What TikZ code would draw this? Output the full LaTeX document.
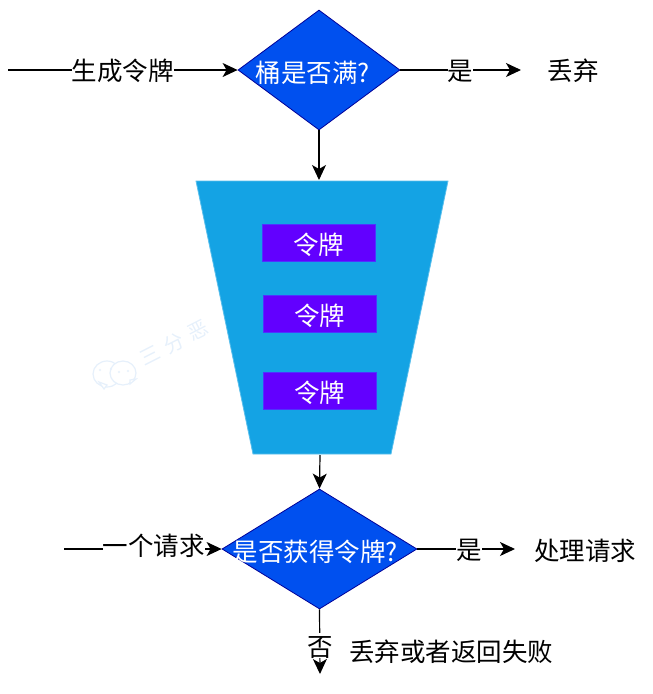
\documentclass[tikz,border=0pt]{standalone}
\usepackage{fontspec}
\setmainfont{Noto Sans CJK SC}
\usetikzlibrary{shapes.geometric,arrows.meta}
\definecolor{cobalt}{HTML}{0050EF}
\definecolor{sky}{HTML}{14A3E4}
\definecolor{violetblue}{HTML}{6200FF}
\definecolor{wmblue}{HTML}{E6F0FB}
\begin{document}
\begin{tikzpicture}[x=1pt,y=-1pt, every node/.style={font=\fontsize{25.5}{28}\selectfont}]
        \tikzset{
            check/.style={diamond,draw=blue!60!black,line width=0.8pt,fill=cobalt,inner sep=0pt,text=white},
            bucket/.style={fill=sky,draw=sky!70!white,line width=0.8pt},
            token/.style={fill=violetblue,draw=violetblue!80!cyan,line width=0.6pt,inner sep=0pt,minimum width=113pt,minimum height=37pt,text=white,text height=23pt,text depth=0pt},
            tag/.style={fill=white,inner sep=0pt,text height=23pt,text depth=2pt},
            word/.style={inner sep=1pt},
            flow/.style={line width=1.2pt,-{Stealth[length=15pt,width=14pt,inset=4pt]}},
            wm/.style={draw=wmblue,line width=1.2pt,fill=white}
        }
        \useasboundingbox (0,0) rectangle (653,694);
        % watermark
        \filldraw[wm] (107,374) ellipse (14 and 13);
        \filldraw[wm] (99,382) -- (104,389) -- (107,385) -- cycle;
        \filldraw[wm] (123,373) ellipse (13 and 12);
        \filldraw[wm] (130,380) -- (136,379) -- (130,384) -- cycle;
        \fill[wmblue] (100,370) circle (1.2) (111,369) circle (1.2) (119,372) circle (1.2) (128,371) circle (1.2);
        \node[rotate=27,text=wmblue,font=\fontsize{20}{22}\selectfont] (mark) at (174,343) {三\hspace{7pt}分\hspace{7pt}恶};
        % bucket and tokens
        \draw[bucket] (196,181) -- (448,181) -- (391,454) -- (253,454) -- cycle;
        \node[token] (tok1) at (318.5,242.5) {令牌};
        \node[token] (tok2) at (319.5,313.5) {令牌};
        \node[token] (tok3) at (319.5,390.5) {令牌};
        % decisions
        \node[check,minimum width=162pt,minimum height=120pt,label={[text=white,xshift=-6pt,yshift=-3pt]center:桶是否满?}] (full) at (319,70) {};
        \node[check,minimum width=195pt,minimum height=120pt,label={[text=white,xshift=-4pt,yshift=-3pt]center:是否获得令牌?}] (got) at (319.5,549) {};
        % free ends
        \coordinate (genstart) at (8,70);
        \coordinate (dropend) at (521,70);
        \coordinate (reqstart) at (64,549);
        \coordinate (passend) at (515,549);
        \coordinate (failend) at (320,674);
        \coordinate (bucketin) at (319,180);
        \coordinate (bucketout) at (320,455);
        % plain texts
        \node[word] (drop) at (573,71) {丢弃};
        \node[word] (pass) at (585,551) {处理请求};
        \node[word] (fail) at (451,652) {丢弃或者返回失败};
        % connectors
        \draw[flow] (genstart) -- (full.west) node[tag,pos=0.5] (gen) {生成令牌};
        \draw[flow] (full.east) -- (dropend) node[tag,pos=0.5] (yes1) {是};
        \draw[flow] (full.south) -- (bucketin);
        \draw[flow] (bucketout) -- (got.north);
        \draw[flow] (reqstart) -- (got.west) node[tag,pos=0.57,yshift=4pt] (req) {一个请求};
        \draw[flow] (got.east) -- (passend) node[tag,pos=0.53] (yes2) {是};
        \draw[flow] (got.south) -- (failend) node[tag,pos=0.56] (no) {否};
    \end{tikzpicture}
\end{document}
